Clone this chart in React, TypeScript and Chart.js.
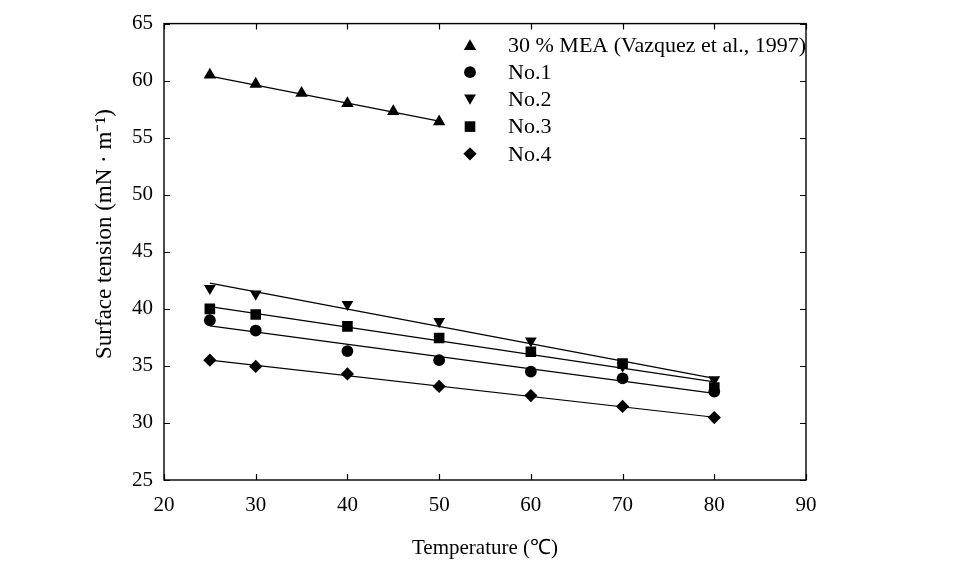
import React, { useEffect, useRef } from "react";
import { Chart, registerables } from "chart.js";

Chart.register(...registerables);

// ---- data ----
const tempsMEA = [25, 30, 35, 40, 45, 50];
const valuesMEA = [60.5, 59.7, 58.9, 58.0, 57.3, 56.4];

const temps = [25, 30, 40, 50, 60, 70, 80];
const valuesNo1 = [39.0, 38.1, 36.3, 35.5, 34.5, 33.9, 32.75];
const valuesNo2 = [41.8, 41.3, 40.4, 38.9, 37.2, 35.0, 33.8];
const valuesNo3 = [40.0, 39.5, 38.46, 37.45, 36.24, 35.2, 33.1];
const valuesNo4 = [35.5, 34.95, 34.3, 33.2, 32.4, 31.45, 30.47];

// fitted straight lines (end points)
const fitXMEA = [25, 50];
const fitMEA = [60.4, 56.45];
const fitX = [25, 80];
const fitNo1 = [38.5, 32.6];
const fitNo2 = [42.25, 33.9];
const fitNo3 = [40.2, 33.6];
const fitNo4 = [35.5, 30.5];

const seriesLabels = ["30 % MEA (Vazquez et al., 1997)", "No.1", "No.2", "No.3", "No.4"];

const xTicks = [20, 30, 40, 50, 60, 70, 80, 90];
const yTicks = [25, 30, 35, 40, 45, 50, 55, 60, 65];

const xTitle = "Temperature (\u2103)";
const yTitle = "Surface tension (mN \u00b7 m\u207b\u00b9)";

const FONT = "'Liberation Serif', 'Times New Roman', serif";

const toPts = (xs: number[], ys: number[]) => xs.map((x, i) => ({ x, y: ys[i] }));

export default function App() {
  const ref = useRef<HTMLCanvasElement | null>(null);

  useEffect(() => {
    if (!ref.current) return;

    const markerDefs = [
      { style: "triangle", rot: 0, r: 7.2 },
      { style: "circle", rot: 0, r: 5.9 },
      { style: "triangle", rot: 180, r: 6.8 },
      { style: "rect", rot: 0, r: 7.5 },
      { style: "rectRot", rot: 0, r: 6.6 },
    ];

    const pointSets = [
      toPts(tempsMEA, valuesMEA),
      toPts(temps, valuesNo1),
      toPts(temps, valuesNo2),
      toPts(temps, valuesNo3),
      toPts(temps, valuesNo4),
    ];
    const fitSets = [
      toPts(fitXMEA, fitMEA),
      toPts(fitX, fitNo1),
      toPts(fitX, fitNo2),
      toPts(fitX, fitNo3),
      toPts(fitX, fitNo4),
    ];

    const datasets: any[] = [];
    fitSets.forEach((d, i) => {
      datasets.push({
        label: "fit " + seriesLabels[i],
        data: d,
        showLine: true,
        borderColor: "#000",
        borderWidth: 1.2,
        pointRadius: 0,
      });
    });
    pointSets.forEach((d, i) => {
      datasets.push({
        label: seriesLabels[i],
        data: d,
        showLine: false,
        backgroundColor: "#000",
        borderColor: "#000",
        borderWidth: 0,
        pointStyle: markerDefs[i].style,
        rotation: markerDefs[i].rot,
        pointRadius: markerDefs[i].r,
      });
    });

    function drawMarker(ctx: CanvasRenderingContext2D, style: string, r: number, rot: number, x: number, y: number) {
      ctx.beginPath();
      if (style === "circle") {
        ctx.arc(x, y, r, 0, Math.PI * 2);
      } else if (style === "triangle") {
        let rad = (rot * Math.PI) / 180;
        ctx.moveTo(x + Math.sin(rad) * r, y - Math.cos(rad) * r);
        rad += (2 * Math.PI) / 3;
        ctx.lineTo(x + Math.sin(rad) * r, y - Math.cos(rad) * r);
        rad += (2 * Math.PI) / 3;
        ctx.lineTo(x + Math.sin(rad) * r, y - Math.cos(rad) * r);
        ctx.closePath();
      } else if (style === "rect") {
        const s = Math.SQRT1_2 * r;
        ctx.rect(x - s, y - s, 2 * s, 2 * s);
      } else if (style === "rectRot") {
        ctx.moveTo(x, y - r);
        ctx.lineTo(x + r, y);
        ctx.lineTo(x, y + r);
        ctx.lineTo(x - r, y);
        ctx.closePath();
      }
      ctx.fill();
    }

    const frame = {
      id: "frame",
      afterDraw(chart: any) {
        const { ctx, chartArea, scales } = chart;
        const { left, right, top, bottom } = chartArea;
        ctx.save();
        ctx.strokeStyle = "#000";
        ctx.lineWidth = 1.4;
        ctx.strokeRect(left, top, right - left, bottom - top);
        ctx.lineWidth = 1.2;
        const tl = 6;
        xTicks.forEach((v) => {
          const px = Math.round(scales.x.getPixelForValue(v)) + 0.5;
          ctx.beginPath();
          ctx.moveTo(px, bottom);
          ctx.lineTo(px, bottom - tl);
          ctx.moveTo(px, top);
          ctx.lineTo(px, top + tl);
          ctx.stroke();
        });
        yTicks.forEach((v) => {
          const py = Math.round(scales.y.getPixelForValue(v)) + 0.5;
          ctx.beginPath();
          ctx.moveTo(left, py);
          ctx.lineTo(left + tl, py);
          ctx.moveTo(right, py);
          ctx.lineTo(right - tl, py);
          ctx.stroke();
        });

        // y axis title
        ctx.fillStyle = "#000";
        ctx.save();
        ctx.translate(105, 234);
        ctx.rotate(-Math.PI / 2);
        ctx.font = "23px " + FONT;
        ctx.textAlign = "center";
        ctx.textBaseline = "middle";
        ctx.fillText(yTitle, 0, 0);
        ctx.restore();

        // legend
        const lx = 470;
        const tx = 508;
        const ly0 = 45;
        const dy = 27.2;
        ctx.font = "22px " + FONT;
        ctx.textBaseline = "middle";
        ctx.textAlign = "left";
        seriesLabels.forEach((lab, i) => {
          const y = ly0 + i * dy;
          const m = markerDefs[i];
          const off = m.style === "triangle" ? (m.rot === 0 ? 1.5 : -1.5) : 0;
          drawMarker(ctx, m.style, m.r, m.rot, lx, y + off);
          ctx.fillText(lab, tx, y + 1);
        });
        ctx.restore();
      },
    };

    const chart = new Chart(ref.current, {
      type: "scatter",
      data: { datasets },
      plugins: [frame],
      options: {
        animation: false,
        responsive: false,
        layout: { padding: { left: 0, top: 20, right: 157, bottom: 0 } },
        plugins: {
          legend: { display: false },
          tooltip: { enabled: false },
        },
        scales: {
          x: {
            type: "linear",
            min: 20,
            max: 90,
            afterFit: (s: any) => {
              s.height = 91;
            },
            afterBuildTicks: (s: any) => {
              s.ticks = xTicks.map((v) => ({ value: v }));
            },
            grid: { display: false, drawTicks: false },
            border: { display: false },
            ticks: {
              color: "#000",
              padding: 13,
              font: { family: FONT, size: 21 },
              maxRotation: 0,
            },
            title: {
              display: true,
              text: xTitle,
              color: "#000",
              font: { family: FONT, size: 21 },
              padding: { top: 0, bottom: 10 },
            },
          },
          y: {
            type: "linear",
            min: 25,
            max: 65,
            afterFit: (s: any) => {
              s.width = 164;
            },
            afterBuildTicks: (s: any) => {
              s.ticks = yTicks.map((v) => ({ value: v }));
            },
            grid: { display: false, drawTicks: false },
            border: { display: false },
            ticks: {
              color: "#000",
              padding: 11,
              font: { family: FONT, size: 21 },
            },
            title: { display: false },
          },
        },
      } as any,
    });

    return () => chart.destroy();
  }, []);

  return (
    <div style={{ position: "fixed", left: 0, top: 0, width: 963, height: 571, background: "#fff" }}>
      <canvas ref={ref} width={963} height={571} style={{ width: 963, height: 571, display: "block" }} />
    </div>
  );
}
